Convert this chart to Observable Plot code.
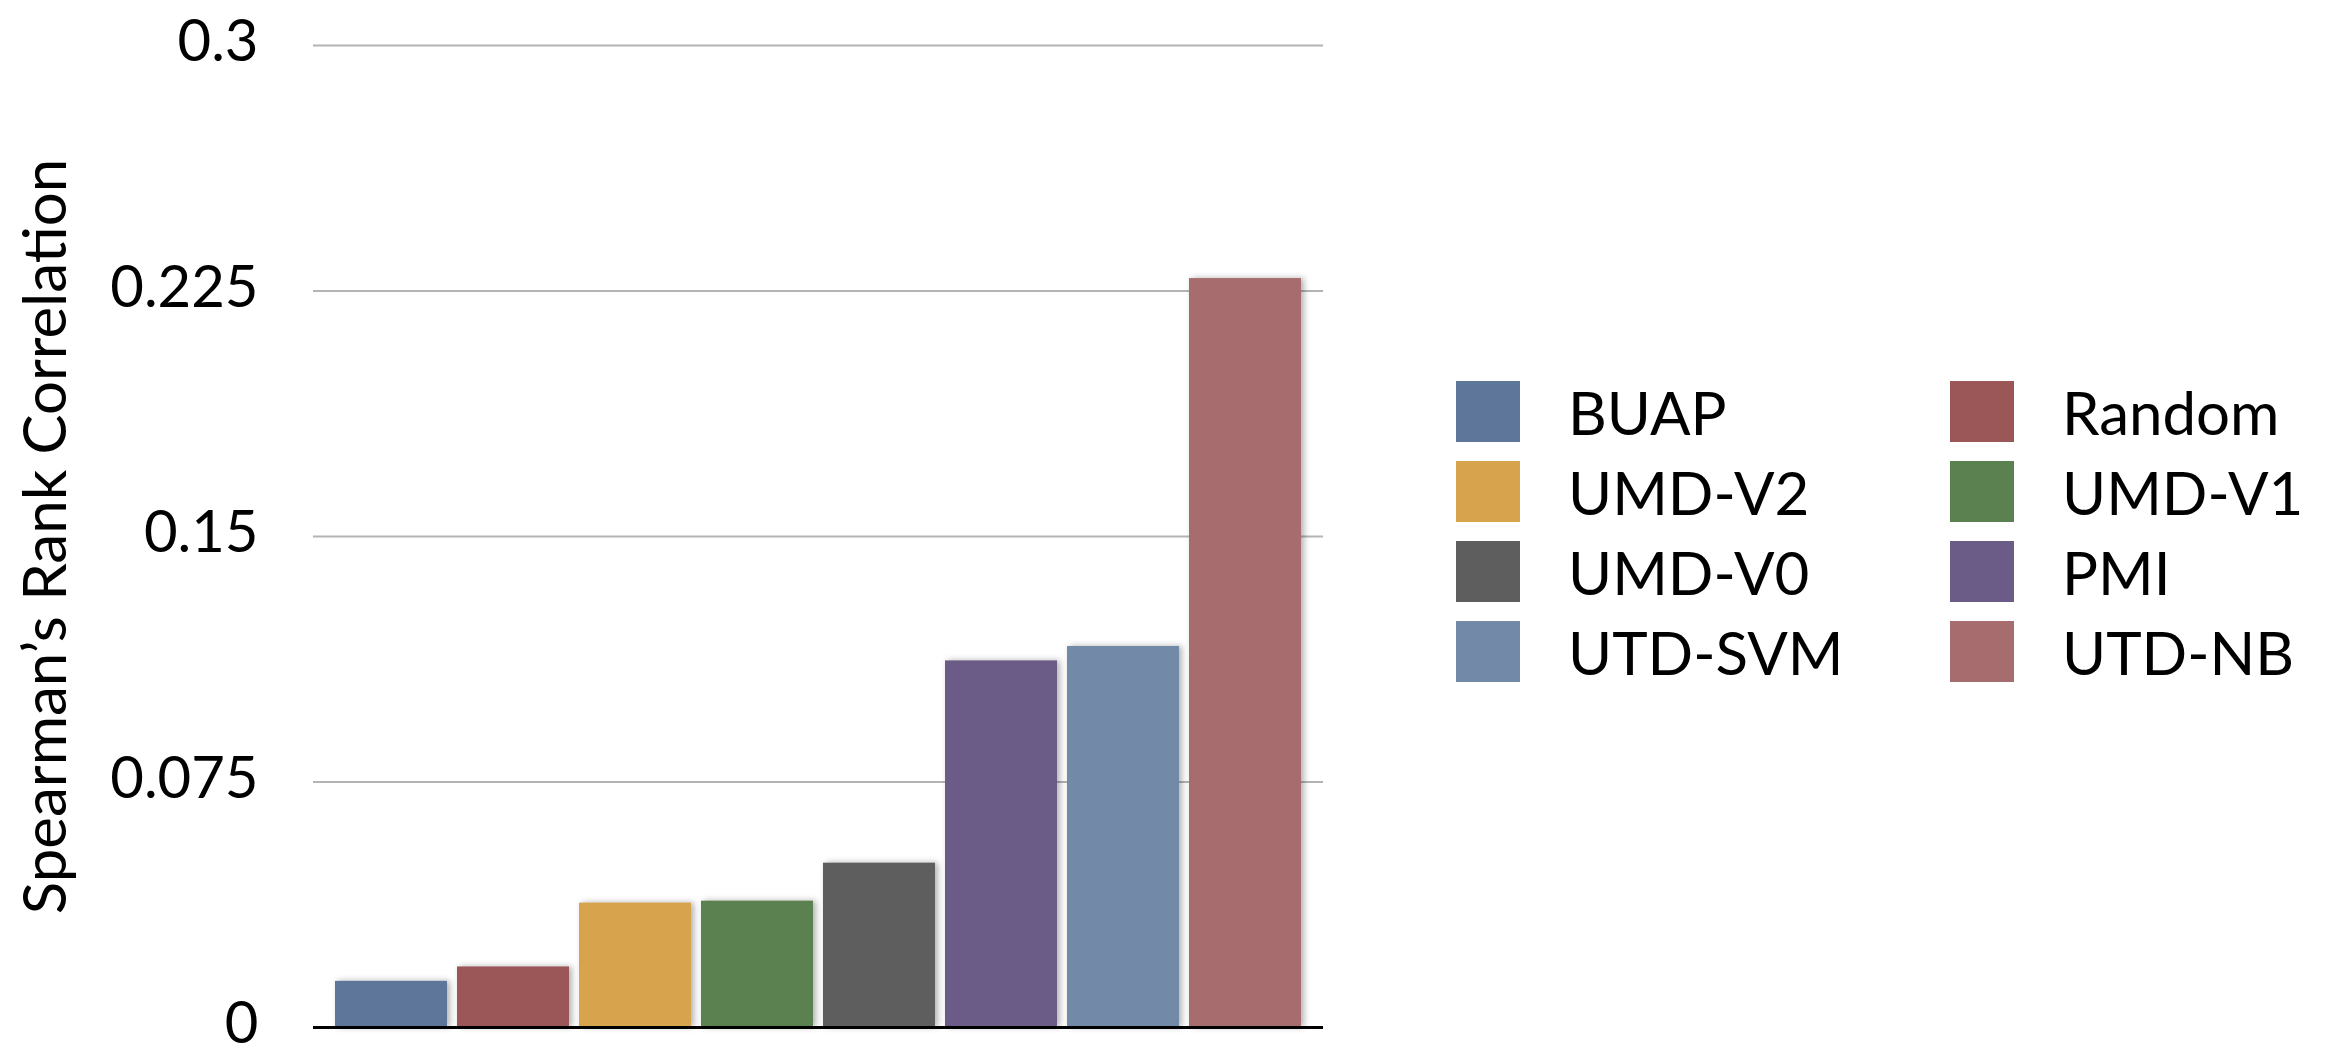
<!DOCTYPE html>
<html>
<head>
<meta charset="utf-8">
<script src="https://cdn.jsdelivr.net/npm/d3@7"></script>
<script src="https://cdn.jsdelivr.net/npm/@observablehq/plot@0.6"></script>
<style>
  body { margin: 0; background: #fff; font-family: "Gill Sans", "Gill Sans MT", Lato, sans-serif; }
  #wrap { position: relative; width: 2337px; height: 1056px; background: #fff; }
  #chart { position: absolute; left: 0; top: 0; }
  #legend { position: absolute; left: 1456px; top: 381px; display: grid; grid-template-columns: 494px auto; row-gap: 19px; }
  .item { display: flex; align-items: center; height: 61px; font-size: 60px; color: #000; white-space: nowrap; }
  .sw { width: 64px; height: 61px; margin-right: 48px; flex: none; }
</style>
</head>
<body>
<div id="wrap"><div id="chart"></div><div id="legend"></div></div>
<script>
const methods = ["BUAP", "Random", "UMD-V2", "UMD-V1", "UMD-V0", "PMI", "UTD-SVM", "UTD-NB"];
const legendLabels = ["BUAP", "Random", "UMD-V2", "UMD-V1", "UMD-V0", "PMI", "UTD-SVM", "UTD-NB"];
const scores = [0.0141, 0.0185, 0.0380, 0.0386, 0.0502, 0.1120, 0.1164, 0.2288];
const colors = ["#5d7699", "#9b5657", "#d7a34d", "#5b8150", "#5e5e5e", "#6a5c86", "#7389a8", "#a76c6d"];
const yTicks = [0, 0.075, 0.15, 0.225, 0.3];
const yLabel = "Spearman’s Rank Correlation";

const data = methods.map((m, i) => ({method: m, score: scores[i]}));
const font = "'Gill Sans', 'Gill Sans MT', Lato, sans-serif";

const chart = Plot.plot({
  width: 1340,
  height: 1056,
  marginLeft: 313,
  marginRight: 17,
  marginTop: 45,
  marginBottom: 29,
  style: {fontFamily: font, fontSize: "60px", color: "#000", background: "#fff"},
  x: {domain: methods, paddingInner: 0.085, paddingOuter: 0.17, axis: null},
  y: {domain: [0, 0.3]},
  color: {domain: methods, range: colors},
  marks: [
    Plot.gridY(yTicks, {stroke: "#b4b4b4", strokeWidth: 2, strokeOpacity: 1}),
    Plot.axisY(yTicks, {
      tickSize: 0, tickPadding: 55, tickFormat: d => String(d),
      label: null, fontSize: 58, dy: -3
    }),
    Plot.axisY({
      ticks: [], tickSize: 0,
      label: yLabel, labelAnchor: "center", labelArrow: "none", labelOffset: 290,
      fontSize: 60
    }),
    Plot.barY(data, {x: "method", y: "score", fill: "method"}),
    Plot.ruleY([0], {stroke: "#000", strokeWidth: 3})
  ]
});
d3.select(chart).selectAll("g[aria-label='bar'] rect")
  .style("filter", "drop-shadow(3px 0px 3px rgba(0,0,0,0.3))");
document.getElementById("chart").appendChild(chart);

const legend = d3.select("#legend");
legendLabels.forEach((name, i) => {
  const it = legend.append("div").attr("class", "item");
  it.append("div").attr("class", "sw").style("background", colors[i]);
  it.append("span").text(name);
});
</script>
</body>
</html>
